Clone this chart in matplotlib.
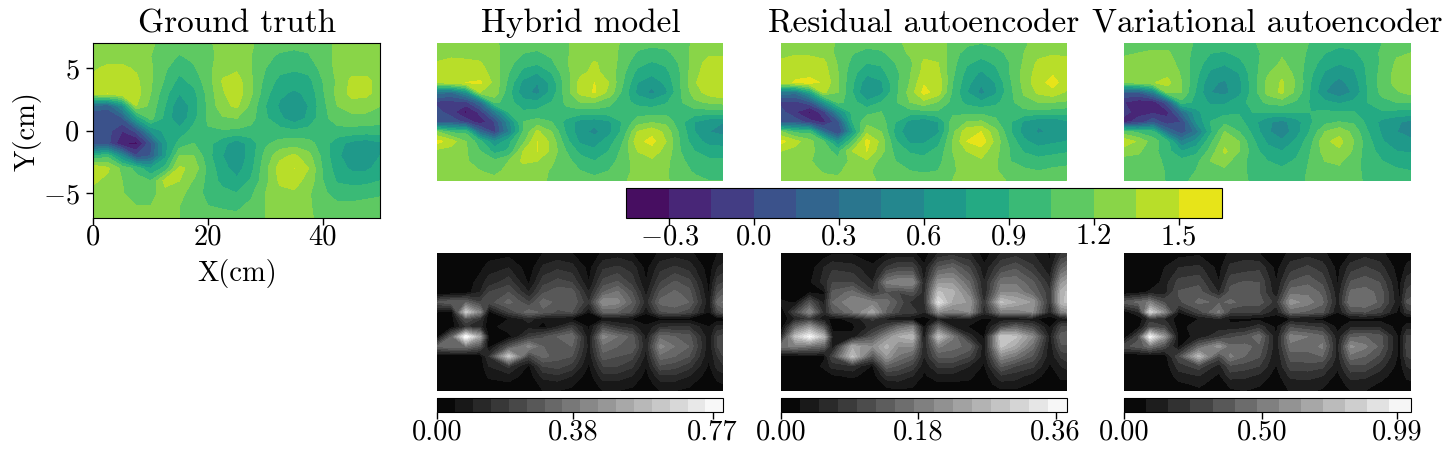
import numpy as np
import matplotlib
matplotlib.use("Agg")
import matplotlib.pyplot as plt

plt.rcParams['font.family'] = ['cmr10', 'DejaVu Serif']
plt.rcParams['mathtext.fontset'] = 'cm'
plt.rcParams['axes.formatter.use_mathtext'] = True

x_cm = [0, 2.5, 5, 7.5, 10, 12.5, 15, 17.5, 20, 22.5, 25, 27.5, 30, 32.5, 35, 37.5, 40, 42.5, 45, 47.5, 50]
y_cm = [7, 6, 5, 4, 3, 2, 1, 0, -1, -2, -3, -4, -5, -6, -7]
err_y_cm = [7, 5.5, 4, 3, 2, 1, .3, -.5, -1.5, -2.5, -3.5, -4.5, -5.5, -6.3, -7]
err_x_hybrid = [0, 2.5, 5, 7.5, 9, 12.5, 16, 18.5, 21, 23.5, 26.5, 29, 31.5, 34, 36.5, 39, 41.5, 44, 47.5, 49, 50]
err_x_residual = [0, 2.5, 5, 7.5, 9, 12.5, 16, 18.5, 20.5, 23, 25, 27.5, 30, 33, 35.5, 38.5, 41, 44, 47, 49, 50]
err_x_variational = [0, 2.5, 4.5, 7, 9.5, 13, 16.5, 18.5, 21, 23.5, 26.5, 29, 32, 34.5, 37.2, 39.5, 42, 44.5, 48, 49.3, 50]

truth = [
 [1.25,1.25,1.25,1.25,1.22,1.15,1.12,1.13,1.18,1.24,1.27,1.22,1.12,1.10,1.08,1.08,1.15,1.22,1.25,1.25,1.25],
 [1.26,1.28,1.28,1.28,1.2,1.1,1.04,1.08,1.16,1.24,1.28,1.2,1.08,1.03,1.02,1.04,1.12,1.24,1.28,1.28,1.26],
 [1.33,1.38,1.38,1.33,1.22,1.07,.95,1.03,1.15,1.3,1.32,1.2,1.05,.95,.92,.95,1.1,1.24,1.3,1.3,1.28],
 [1.38,1.42,1.42,1.38,1.22,1.03,.85,.95,1.13,1.36,1.42,1.22,1.0,.85,.82,.85,1.05,1.22,1.38,1.38,1.3],
 [1.45,1.5,1.48,1.42,1.2,.95,.75,.85,1.1,1.33,1.44,1.22,.95,.78,.72,.78,1.03,1.24,1.4,1.38,1.3],
 [.25,.2,.6,1.35,1.15,.9,.62,.82,1.08,1.3,1.38,1.15,.9,.72,.65,.75,1.0,1.2,1.28,1.28,1.2],
 [0,0,.12,.75,1.1,.85,.62,.85,1.08,1.18,1.2,1.1,.92,.78,.65,.78,1,1.12,1.14,1.14,1.12],
 [.05,.05,-.15,.05,.6,.8,.8,.95,1.03,1.03,1.02,1,.97,.95,.92,.95,1,1,1,.98,.98],
 [.03,.05,-.3,-.35,.1,.7,.95,1.05,.95,.8,.65,.82,1.02,1.1,1.12,1.1,.98,.8,.7,.65,.72],
 [.9,1.0,.55,0,.15,.7,1.2,1.2,.95,.75,.62,.82,1.1,1.3,1.38,1.25,1.0,.78,.65,.65,.75],
 [1.48,1.38,1.15,1.0,.75,.95,1.38,1.3,1.0,.8,.68,.85,1.15,1.42,1.5,1.35,1.03,.82,.72,.72,.8],
 [1.38,1.3,1.2,1.1,1.05,1.4,1.35,1.18,1.0,.85,.78,.92,1.15,1.38,1.4,1.3,1.05,.88,.85,.85,.9],
 [1.28,1.25,1.22,1.07,1.12,1.3,1.25,1.12,1.0,.95,.9,1.02,1.2,1.3,1.33,1.22,1.08,.98,.98,1.0,1.02],
 [1.25,1.25,1.25,1.2,1.2,1.22,1.2,1.12,1.05,1.03,1.02,1.08,1.2,1.26,1.28,1.22,1.12,1.08,1.08,1.1,1.12],
 [1.25,1.25,1.25,1.25,1.25,1.22,1.2,1.14,1.1,1.1,1.08,1.12,1.2,1.25,1.27,1.22,1.16,1.15,1.15,1.16,1.16],
]
hybrid = [
 [1.25,1.25,1.25,1.25,1.22,1.15,1.12,1.1,1.13,1.18,1.25,1.27,1.25,1.18,1.1,1.08,1.09,1.13,1.23,1.27,1.27],
 [1.28,1.3,1.3,1.3,1.24,1.13,1.05,1.03,1.08,1.18,1.26,1.3,1.27,1.15,1.03,1.0,1.02,1.1,1.26,1.32,1.32],
 [1.36,1.4,1.38,1.36,1.26,1.1,.95,.92,1.02,1.18,1.3,1.36,1.3,1.12,.95,.88,.93,1.07,1.28,1.4,1.42],
 [1.38,1.42,1.44,1.42,1.28,1.05,.85,.75,.9,1.15,1.32,1.38,1.3,1.08,.85,.78,.85,1.05,1.3,1.44,1.45],
 [1.35,1.45,1.5,1.52,1.3,1.0,.7,.6,.8,1.12,1.4,1.5,1.35,1.05,.75,.66,.78,1.05,1.33,1.47,1.5],
 [.35,.3,.6,1.35,1.3,.95,.65,.55,.8,1.12,1.4,1.52,1.3,1.0,.7,.55,.72,1.03,1.28,1.42,1.48],
 [-.05,-.05,-.05,.3,1.1,.95,.8,.78,.9,1.08,1.2,1.2,1.1,.95,.85,.8,.88,1.03,1.17,1.22,1.25],
 [.05,-.1,-.35,-.1,.4,.9,.92,.95,1,1.0,.98,.98,.98,.98,.98,.98,1,1,.98,.98,.98],
 [.05,.1,-.05,-.25,0,.55,1.05,1.1,1.05,.85,.68,.65,.72,.92,1.12,1.18,1.15,.95,.75,.65,.6],
 [1.2,1.0,1.0,.25,-.05,.45,1.05,1.38,1.2,.88,.65,.55,.7,.95,1.35,1.45,1.3,1.0,.75,.6,.55],
 [1.55,1.42,1.2,.95,.6,.85,1.15,1.5,1.3,.95,.72,.68,.82,1.05,1.45,1.55,1.35,1.03,.8,.7,.68],
 [1.3,1.28,1.22,1.05,.85,.92,1.35,1.5,1.3,1.05,.85,.78,.9,1.1,1.35,1.42,1.3,1.05,.9,.82,.82],
 [1.25,1.25,1.22,1.1,1.08,1.2,1.38,1.35,1.22,1.1,.97,.9,.98,1.12,1.28,1.32,1.24,1.08,.98,.93,.92],
 [1.25,1.25,1.25,1.2,1.18,1.22,1.26,1.26,1.18,1.12,1.05,1.02,1.05,1.15,1.24,1.26,1.22,1.1,1.03,1.0,1.0],
 [1.25,1.25,1.25,1.22,1.22,1.25,1.26,1.25,1.17,1.14,1.1,1.08,1.1,1.18,1.25,1.27,1.22,1.12,1.08,1.05,1.05],
]
residual = [
 [1.25,1.25,1.25,1.25,1.18,1.12,1.12,1.12,1.15,1.25,1.27,1.27,1.15,1.08,1.05,1.08,1.12,1.17,1.27,1.28,1.28],
 [1.3,1.33,1.32,1.3,1.15,1.06,.98,1.02,1.12,1.22,1.3,1.3,1.12,.98,.95,1,1.08,1.2,1.3,1.33,1.32],
 [1.38,1.42,1.42,1.38,1.18,1.0,.9,.92,1.05,1.15,1.38,1.35,1.1,.92,.85,.92,1.05,1.22,1.38,1.42,1.4],
 [1.42,1.45,1.45,1.42,1.2,.95,.78,.85,1.0,1.18,1.4,1.38,1.08,.85,.72,.85,1.05,1.25,1.42,1.48,1.42],
 [1.4,1.52,1.55,1.48,1.2,.92,.65,.72,1,1.2,1.48,1.45,1.05,.8,.62,.75,1.02,1.25,1.45,1.55,1.42],
 [.4,.35,.75,1.38,1.2,.9,.58,.7,1,1.25,1.55,1.42,1.02,.75,.55,.72,1.0,1.22,1.38,1.45,1.32],
 [-.05,-.05,.1,.65,1.1,.95,.78,.9,1.03,1.2,1.3,1.18,1.0,.85,.78,.85,1,1.15,1.2,1.2,1.18],
 [.05,-.15,-.35,-.05,.55,.95,1,1.05,1.02,.98,1,1.02,1,1,1,1,1,1,1,.98,.95],
 [.05,.1,-.1,-.2,.1,.9,1.15,1.12,.9,.7,.62,.75,1.12,1.2,1.22,1.08,.92,.72,.62,.6,.72],
 [1.2,1.0,1.0,.3,-.05,.7,1.3,1.2,.85,.62,.6,.72,1.15,1.45,1.5,1.25,.92,.68,.58,.62,.72],
 [1.55,1.4,1.25,1.05,.6,1.05,1.55,1.3,.92,.72,.72,.85,1.2,1.5,1.6,1.3,1.0,.78,.68,.72,.75],
 [1.35,1.3,1.25,1.1,1.0,1.35,1.5,1.25,1.0,.88,.85,.95,1.2,1.35,1.42,1.25,1.05,.88,.82,.85,.88],
 [1.25,1.25,1.22,1.07,1.08,1.25,1.32,1.15,1.05,.98,.95,1.0,1.18,1.28,1.32,1.22,1.05,1.0,.95,.98,1.0],
 [1.25,1.25,1.25,1.18,1.18,1.25,1.24,1.12,1.08,1.05,1.03,1.05,1.18,1.25,1.27,1.22,1.1,1.07,1.05,1.08,1.1],
 [1.25,1.25,1.25,1.25,1.22,1.25,1.25,1.17,1.12,1.1,1.12,1.15,1.2,1.26,1.28,1.25,1.18,1.14,1.1,1.12,1.2],
]
variational = [
 [1.15,1.15,1.15,1.15,1.12,1.03,1.0,.98,1,1.03,1.12,1.15,1.15,1.03,.95,.93,.93,.97,1.05,1.15,1.17],
 [1.18,1.2,1.22,1.22,1.12,1,.9,.88,.94,1.0,1.1,1.18,1.14,1.0,.9,.85,.88,.95,1.08,1.18,1.2],
 [1.24,1.28,1.28,1.27,1.14,.98,.82,.77,.85,1,1.12,1.22,1.14,.97,.82,.76,.8,.93,1.08,1.22,1.25],
 [1.27,1.3,1.3,1.3,1.18,.95,.72,.65,.75,.98,1.18,1.3,1.15,.93,.73,.65,.72,.93,1.1,1.25,1.3],
 [1.22,1.26,1.34,1.4,1.2,.92,.62,.58,.7,.98,1.24,1.37,1.18,.9,.65,.55,.66,.92,1.12,1.25,1.33],
 [.15,.15,.45,1.25,1.2,.88,.6,.55,.7,.97,1.25,1.38,1.15,.88,.6,.5,.62,.9,1.1,1.18,1.25],
 [-.15,-.25,-.25,.1,1.0,.85,.72,.72,.82,.97,1.08,1.12,1.02,.88,.78,.72,.78,.9,1,1.05,1.05],
 [-.12,-.2,-.2,-.2,.3,.7,.85,.85,.88,.9,.9,.9,.9,.9,.92,.9,.9,.88,.88,.86,.86],
 [-.2,-.1,.1,-.1,.0,.6,.9,1,.95,.8,.62,.55,.68,.88,1.0,1.05,1.02,.85,.7,.62,.55],
 [1.1,1.0,.95,.3,.05,.35,.85,1.2,1.05,.85,.62,.5,.68,.92,1.2,1.3,1.15,.9,.72,.6,.55],
 [1.45,1.32,1.12,.95,.45,.65,1.0,1.3,1.2,.92,.72,.62,.78,1.0,1.32,1.4,1.2,.95,.76,.66,.62],
 [1.25,1.22,1.1,.95,.75,.85,1.1,1.38,1.2,.97,.8,.75,.85,1.05,1.27,1.32,1.18,.95,.85,.75,.73],
 [1.15,1.15,1.12,1.0,.95,1.0,1.2,1.25,1.12,.98,.9,.85,.92,1.07,1.2,1.22,1.12,.97,.9,.85,.83],
 [1.15,1.15,1.15,1.02,1.0,1.05,1.15,1.17,1.1,1.0,.97,.93,.97,1.08,1.15,1.17,1.1,1,.95,.92,.9],
 [1.15,1.15,1.15,1.03,1.02,1.08,1.13,1.15,1.1,1.02,1,.97,1,1.08,1.14,1.15,1.12,1,.97,.93,.93],
]
err_hybrid = [
 [0,0,0,0,.01,.03,.01,.05,.06,.05,.01,.06,.07,.05,.01,.06,.07,.06,.01,.05,.05],
 [0,0,0,.03,.08,.1,.02,.11,.14,.12,.03,.14,.16,.13,.03,.13,.16,.13,.02,.1,.12],
 [0,0,.01,.08,.12,.18,.04,.18,.22,.2,.05,.22,.26,.18,.05,.2,.26,.22,.03,.18,.2],
 [0,0,.02,.1,.2,.25,.1,.24,.28,.28,.1,.3,.36,.25,.08,.26,.31,.27,.04,.24,.28],
 [.25,.3,.3,.2,.22,.32,.2,.33,.28,.3,.15,.45,.42,.3,.12,.32,.34,.3,.06,.32,.36],
 [.05,.02,.62,.4,.03,.2,.33,.28,.24,.25,.05,.3,.3,.24,.06,.24,.26,.22,.05,.22,.26],
 [.02,.02,.25,.15,.01,.05,.12,.06,.05,.04,.01,.05,.05,.04,.01,.03,.03,.03,.01,.02,.02],
 [.01,.02,.15,.12,.01,.1,.08,.03,.1,.18,.04,.22,.15,.12,.06,.14,.15,.15,.05,.12,.12],
 [.02,.3,.8,.5,.02,.02,.18,.24,.3,.35,.05,.42,.35,.28,.08,.33,.3,.27,.06,.2,.22],
 [.3,.35,.35,.25,.02,.25,.42,.3,.3,.3,.08,.33,.3,.3,.1,.42,.35,.3,.06,.2,.24],
 [0,0,0,.02,.15,.62,.2,.32,.27,.25,.06,.28,.25,.22,.08,.33,.3,.25,.05,.15,.2],
 [0,0,0,.02,.1,.16,.04,.2,.22,.18,.04,.2,.2,.16,.05,.24,.22,.17,.04,.12,.14],
 [0,0,0,.01,.06,.08,.02,.12,.14,.1,.02,.13,.13,.1,.03,.14,.14,.1,.02,.07,.08],
 [0,0,0,0,.03,.04,.01,.07,.08,.06,.01,.08,.08,.06,.02,.08,.08,.06,.01,.04,.05],
 [0,0,0,0,.01,.02,.01,.05,.05,.04,.01,.05,.05,.04,.01,.05,.05,.04,.01,.02,.03],
]
err_residual = [
 [0,0,0,.01,.02,.02,.01,.02,.03,.03,.01,.05,.06,.05,.01,.05,.06,.05,.02,.07,.08],
 [0,0,.01,.05,.07,.06,.03,.08,.1,.1,.03,.13,.15,.1,.03,.1,.12,.08,.03,.14,.16],
 [0,0,.02,.06,.1,.1,.05,.18,.2,.2,.05,.22,.22,.15,.05,.17,.17,.13,.06,.22,.24],
 [.01,.02,.02,.02,.13,.16,.08,.12,.1,.12,.06,.28,.26,.18,.05,.2,.2,.15,.08,.26,.28],
 [.03,.02,.12,.04,.15,.2,.18,.16,.12,.06,.06,.33,.24,.22,.07,.28,.25,.22,.07,.27,.28],
 [0,.1,.2,.06,.12,.17,.24,.14,.1,.09,.05,.2,.18,.2,.06,.18,.18,.2,.05,.18,.2],
 [0,.05,.08,.03,.02,.03,.08,.04,.02,.02,.01,.04,.03,.04,.02,.03,.03,.03,.01,.03,.03],
 [0,.15,.22,.12,.01,.02,.06,.1,.15,.18,.02,.15,.05,.02,.01,.1,.14,.1,.02,.1,.1],
 [.05,.28,.36,.26,.04,.03,.12,.2,.25,.27,.03,.28,.18,.06,.02,.3,.28,.2,.04,.14,.15],
 [.17,.18,.16,.14,.03,.24,.2,.26,.2,.2,.05,.18,.16,.14,.03,.28,.24,.16,.03,.12,.12],
 [.01,.01,.02,.02,.1,.28,.12,.22,.17,.14,.05,.13,.13,.1,.03,.2,.17,.12,.03,.08,.09],
 [0,0,.01,.03,.06,.07,.02,.14,.12,.09,.03,.08,.08,.05,.02,.13,.1,.08,.02,.05,.06],
 [0,0,0,.01,.02,.03,.01,.07,.07,.05,.02,.04,.04,.03,.01,.07,.06,.04,.01,.03,.03],
 [0,0,0,0,.01,.01,.01,.03,.04,.03,.01,.02,.02,.02,.01,.04,.04,.02,.01,.02,.02],
 [0,0,0,0,0,.01,0,.02,.02,.02,.01,.02,.02,.01,.01,.02,.02,.02,.01,.01,.01],
]
err_variational = [
 [0,0,0,.01,.04,.06,.02,.1,.12,.08,.02,.1,.12,.1,.02,.08,.12,.1,.02,.03,.04],
 [0,0,0,.08,.16,.18,.05,.18,.2,.22,.05,.2,.26,.2,.05,.2,.25,.2,.03,.1,.12],
 [0,0,0,.12,.27,.3,.08,.3,.33,.32,.08,.33,.38,.3,.07,.33,.37,.32,.05,.2,.22],
 [.02,.05,.1,.12,.33,.36,.15,.35,.36,.32,.1,.45,.46,.38,.1,.42,.43,.38,.06,.26,.28],
 [.35,.42,.5,.3,.3,.42,.38,.42,.36,.36,.2,.6,.52,.42,.12,.48,.48,.38,.08,.33,.36],
 [.04,.15,.85,.55,.08,.28,.5,.26,.24,.24,.1,.42,.38,.34,.08,.3,.32,.26,.05,.2,.22],
 [.02,.02,.2,.15,.03,.08,.15,.06,.06,.05,.05,.08,.06,.05,.02,.05,.05,.05,.02,.02,.02],
 [.02,.05,.3,.25,.03,.15,.12,.1,.12,.2,.06,.3,.25,.22,.05,.14,.15,.15,.04,.12,.12],
 [.02,.3,1.0,.6,.05,.1,.22,.3,.34,.45,.08,.52,.48,.42,.1,.38,.4,.36,.05,.25,.26],
 [.3,.35,.45,.3,.05,.4,.6,.42,.42,.38,.1,.45,.42,.5,.12,.58,.5,.38,.05,.28,.3],
 [0,0,.02,.03,.3,.75,.3,.5,.4,.33,.08,.36,.38,.4,.12,.45,.4,.3,.05,.24,.26],
 [0,0,0,.02,.2,.28,.12,.3,.28,.24,.07,.28,.28,.26,.1,.3,.3,.2,.04,.16,.18],
 [0,0,0,.01,.12,.16,.06,.2,.18,.14,.04,.18,.2,.16,.05,.2,.18,.12,.02,.1,.11],
 [0,0,0,0,.06,.1,.03,.1,.11,.09,.02,.12,.12,.1,.03,.12,.11,.07,.01,.05,.06],
 [0,0,0,0,.03,.06,.02,.07,.08,.06,.01,.09,.09,.07,.02,.08,.08,.05,.01,.03,.04],
]

titles = ["Ground truth", "Hybrid model", "Residual autoencoder", "Variational autoencoder"]
field_ticks = [-0.3, 0.0, 0.3, 0.6, 0.9, 1.2, 1.5]
field_tick_labels = ["$-$0.3", "0.0", "0.3", "0.6", "0.9", "1.2", "1.5"]
err_ticks = [[0, 0.38, 0.77], [0, 0.18, 0.36], [0, 0.50, 0.99]]
err_tick_labels = [["0.00", "0.38", "0.77"], ["0.00", "0.18", "0.36"], ["0.00", "0.50", "0.99"]]
err_max = [0.80, 0.375, 1.04]
err_bands = [16, 15, 13]

W, H = 1450, 459
FS = 20.5
TS = 24
fig = plt.figure(figsize=(W / 100, H / 100), dpi=100)


def px_axes(l, t, r, b):
    return fig.add_axes([l / W, 1 - b / H, (r - l) / W, (b - t) / H])


field_levels = np.linspace(-0.4535, 1.65, 15)
X, Y = np.meshgrid(x_cm, y_cm)

ax = px_axes(93.3, 43.3, 380.3, 218.3)
cs = ax.contourf(X, Y, np.array(truth), levels=field_levels, cmap='viridis')
ax.set_xticks([0, 20, 40], ["0", "20", "40"])
ax.set_yticks([-5, 0, 5], ["$-$5", "0", "5"])
ax.tick_params(labelsize=FS, length=5, width=1, pad=5)
ax.tick_params(axis='x', pad=-1)
ax.set_xlabel("X(cm)", fontsize=FS, labelpad=6)
ax.set_ylabel("Y(cm)", fontsize=FS, labelpad=1)
ax.set_title(titles[0], fontsize=TS, pad=8)

lefts = [437.3, 781, 1124.3]
rights = [723.3, 1067, 1411]
for i, field in enumerate([hybrid, residual, variational]):
    a = px_axes(lefts[i], 43.3, rights[i], 180.7)
    a.contourf(X, Y, np.array(field), levels=field_levels, cmap='viridis')
    a.axis('off')
    a.set_title(titles[i + 1], fontsize=TS, pad=8)

cax = px_axes(626, 188.3, 1221.5, 218.3)
cb = fig.colorbar(cs, cax=cax, orientation='horizontal')
cb.set_ticks(field_ticks, labels=field_tick_labels)
cb.ax.tick_params(labelsize=FS, length=5, width=1, pad=-1)

err_xs = [err_x_hybrid, err_x_residual, err_x_variational]
for i, field in enumerate([err_hybrid, err_residual, err_variational]):
    a = px_axes(lefts[i], 253, rights[i], 390.7)
    levels = np.linspace(0, err_max[i], err_bands[i] + 1)
    EX, EY = np.meshgrid(err_xs[i], err_y_cm)
    c = a.contourf(EX, EY, np.array(field), levels=levels, cmap='gray')
    a.axis('off')
    e = px_axes(lefts[i], 398.3, rights[i], 412.3)
    b = fig.colorbar(c, cax=e, orientation='horizontal')
    b.set_ticks(err_ticks[i], labels=err_tick_labels[i])
    b.ax.tick_params(labelsize=FS, length=5, width=1, pad=0)

fig.savefig("out.png", dpi=100)
